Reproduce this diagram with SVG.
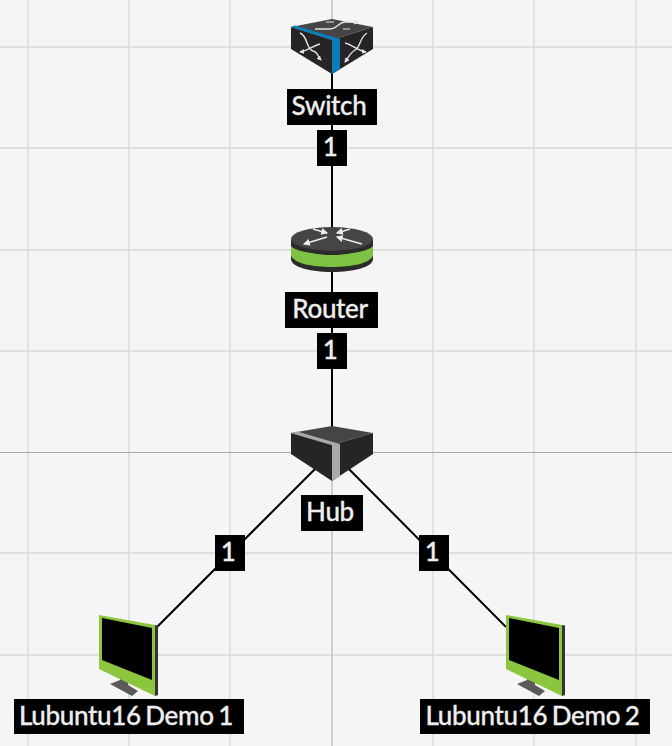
<svg xmlns="http://www.w3.org/2000/svg" width="672" height="746" viewBox="0 0 672 746">
<style>
.bg{fill:#f5f5f5}
.g{stroke:#d8d8d8;stroke-width:1.300;fill:none}
.c{stroke:#000;stroke-width:2;fill:none}
.lb{fill:#000}
.t{font-family:Lato,"Open Sans",sans-serif;font-size:26px;font-weight:500;fill:#eee;stroke:#eee;stroke-width:.3;text-anchor:middle;letter-spacing:-.35px;word-spacing:-1.500px}
.w{stroke:#e4e4e4;stroke-width:1.400;fill:none;marker-end:url(#ah)}
.r{stroke:#eee;stroke-width:1.500;fill:none;marker-end:url(#rh)}
</style>
<defs>
<marker id="ah" viewBox="0 0 6 6" refX="5" refY="3" markerWidth="5" markerHeight="5" markerUnits="userSpaceOnUse" orient="auto"><path d="M0 0L6 3L0 6Z" fill="#e4e4e4"/></marker>
<marker id="rh" viewBox="0 0 6 6" refX="5" refY="3" markerWidth="7" markerHeight="7" markerUnits="userSpaceOnUse" orient="auto"><path d="M0 0L6 3L0 6Z" fill="#eee"/></marker>
<g id="monitor">
<polygon points="110,684 120,680 122,671 128,674 128,685 138,691 132,696" fill="#5a5a5a"/>
<polygon points="155,625 158,625.500 158,695 155,696" fill="#333"/>
<polygon points="99,615 155,625 155,696 99,669" fill="#8cc63f"/>
<polygon points="102,618 152,628 152,680 102,660" fill="#000"/>
</g>
</defs>
<rect class="bg" width="672" height="746"/>
<g id="grid">
<path class="g" d="M28 0V746M129 0V746M230 0V746M433 0V746M534 0V746M636 0V746M0 47H672M0 148H672M0 250H672M0 351H672M0 553H672M0 655H672"/>
<path d="M332 0V746" stroke="#c0c0c0" stroke-width="1.500"/>
<path d="M0 452.500H672" stroke="#a8a8a8" stroke-width="1"/>
</g>
<g id="connectors">
<path class="c" d="M332 60V250M332 250V460M332 452L157 627M332 452L506 627"/>
</g>
<g id="switch">
<polygon points="291,27 332,19 373,27 332,40" fill="#454545"/>
<polygon points="291,27 332,40 332,74 291,49" fill="#262425"/>
<polygon points="332,40 373,27 373,49 332,74" fill="#262425"/>
<polygon points="291,27 295,25.500 340,39 340,69 332,74 332,40" fill="#0a7dbd"/>
<path class="w" d="M300 33C308 36 306 49 313 51C318 52 318 57 321 60"/>
<path class="w" d="M320 44C312 46 308 51 300 52"/>
<path class="w" d="M367 33C359 38 361 47 355 50C350 53 348 58 345 62"/>
<path class="w" d="M345 43C353 45 358 51 366 52"/>
<path class="w" d="M315 29H330C337 29 339 22 345 22H358"/>
<path d="M326 22H334M343 29H350" stroke="#e4e4e4" stroke-width="1" fill="none"/>
<rect class="lb" x="287" y="89" width="90" height="36"/>
<text class="t" x="329" y="115">Switch</text>
</g>
<g id="edge-label-1"><rect class="lb" x="317" y="130" width="30" height="36"/><text class="t" x="330" y="156">1</text></g>
<g id="router">
<path d="M291 240V259C291 267 310 272 332 272C354 272 373 267 373 259V240Z" fill="#2b2b2b"/>
<path d="M291 246C295 251 310 254 332 254C354 254 369 251 373 246V256C369 263 354 267 332 267C310 267 295 263 291 256Z" fill="#7dc242"/>
<ellipse cx="332" cy="239" rx="41" ry="12" fill="#454545"/>
<path d="M291 239C291 246 310 251 332 251C354 251 373 246 373 239C373 248 354 255 332 255C310 255 291 248 291 239Z" fill="#2b2b2b"/>
<path class="r" d="M327 237L304 244"/>
<path class="r" d="M362 244L337 237"/>
<path class="r" d="M313 229L327 233"/>
<path class="r" d="M350 229L337 233"/>
<rect class="lb" x="285" y="292" width="93" height="36"/>
<text class="t" x="330" y="318">Router</text>
</g>
<g id="edge-label-2"><rect class="lb" x="317" y="333" width="30" height="36"/><text class="t" x="330" y="359">1</text></g>
<g id="hub">
<polygon points="291,433 332,426 373,433 332,445" fill="#454545"/>
<polygon points="291,433 332,445 332,481 291,454" fill="#262425"/>
<polygon points="332,445 373,433 373,454 332,481" fill="#262425"/>
<polygon points="291,433 297,431.500 340,444 340,476 332,481 332,445" fill="#a9a9a9"/>
<rect class="lb" x="301" y="495" width="62" height="36"/>
<text class="t" x="330" y="521">Hub</text>
</g>
<g id="edge-label-3"><rect class="lb" x="215" y="535" width="30" height="36"/><text class="t" x="228" y="561">1</text></g>
<g id="edge-label-4"><rect class="lb" x="419" y="535" width="30" height="36"/><text class="t" x="432" y="561">1</text></g>
<g id="lubuntu1">
<use href="#monitor"/>
<rect class="lb" x="14" y="699" width="230" height="35"/>
<text class="t" x="126" y="725">Lubuntu16 Demo 1</text>
</g>
<g id="lubuntu2">
<use href="#monitor" x="407"/>
<rect class="lb" x="420" y="699" width="230" height="35"/>
<text class="t" x="532.500" y="725">Lubuntu16 Demo 2</text>
</g>
</svg>
